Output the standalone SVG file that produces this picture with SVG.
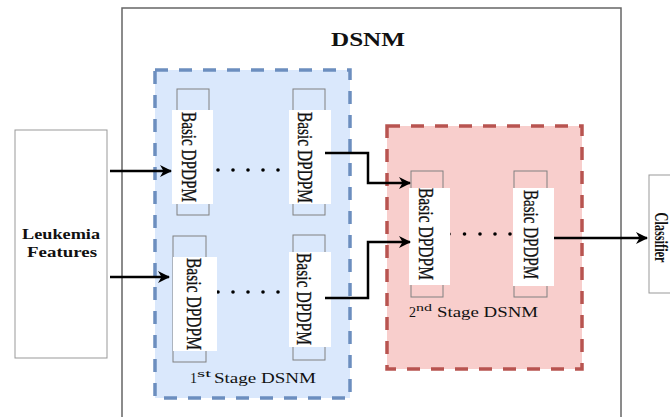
<svg xmlns="http://www.w3.org/2000/svg" width="670" height="417" viewBox="0 0 670 417">
<style>
.serif{font-family:"Liberation Serif","Times New Roman",serif;fill:#111}
.b{font-weight:bold}
.mod{fill:none;stroke:#808080;stroke-width:1}
.wht{fill:#fff;stroke:none}
.conn{fill:none;stroke:#000;stroke-width:2.5}
.dot{fill:#000}
.vt{font-size:16px;stroke:#111;stroke-width:0.25}
</style>
<defs>
<marker id="ah" markerWidth="12" markerHeight="12" refX="11" refY="6" orient="auto" markerUnits="userSpaceOnUse" viewBox="0 0 12 12">
<path d="M0,0 L12,6 L0,12 L3.5,6 Z" fill="#000"/>
</marker>
</defs>
<rect x="0" y="0" width="670" height="417" fill="#fff"/>
<g id="dsnm-outer">
<rect x="122" y="8" width="499" height="420" fill="#fff" stroke="#666" stroke-width="1.5"/>
<text class="serif b" x="331" y="46" font-size="19" textLength="74" lengthAdjust="spacingAndGlyphs">DSNM</text>
</g>
<g id="leukemia-features">
<rect x="15" y="130" width="92" height="228" fill="#fff" stroke="#999" stroke-width="1"/>
<text class="serif b" x="22" y="239" font-size="15" textLength="78" lengthAdjust="spacingAndGlyphs">Leukemia</text>
<text class="serif b" x="27" y="257" font-size="15" textLength="70" lengthAdjust="spacingAndGlyphs">Features</text>
</g>
<g id="stage1">
<rect x="155" y="70" width="195" height="328" fill="#dae8fc" stroke="#6c8ebf" stroke-width="3.5" stroke-dasharray="13 11"/>
<text class="serif" x="190" y="383" font-size="15" textLength="7" lengthAdjust="spacingAndGlyphs">1</text>
<text class="serif" x="197" y="377" font-size="10" textLength="14" lengthAdjust="spacingAndGlyphs">st</text>
<text class="serif" x="214" y="383" font-size="15" textLength="102" lengthAdjust="spacingAndGlyphs">Stage DSNM</text>
<circle class="dot" cx="218" cy="170" r="1.8"/><circle class="dot" cx="233" cy="170" r="1.8"/><circle class="dot" cx="248" cy="170" r="1.8"/><circle class="dot" cx="263" cy="170" r="1.8"/><circle class="dot" cx="278" cy="170" r="1.8"/>
<circle class="dot" cx="218" cy="292" r="1.8"/><circle class="dot" cx="233" cy="292" r="1.8"/><circle class="dot" cx="248" cy="292" r="1.8"/><circle class="dot" cx="263" cy="292" r="1.8"/><circle class="dot" cx="278" cy="292" r="1.8"/>
</g>
<g id="stage2">
<rect x="387" y="126" width="195" height="243" fill="#f8cecc" stroke="#b85450" stroke-width="3.5" stroke-dasharray="13 11"/>
<text class="serif" x="409" y="317" font-size="15" textLength="7" lengthAdjust="spacingAndGlyphs">2</text>
<text class="serif" x="416" y="311" font-size="10" textLength="16" lengthAdjust="spacingAndGlyphs">nd</text>
<text class="serif" x="437" y="317" font-size="15" textLength="101" lengthAdjust="spacingAndGlyphs">Stage DSNM</text>
<circle class="dot" cx="449" cy="234" r="1.8"/><circle class="dot" cx="464.5" cy="234" r="1.8"/><circle class="dot" cx="480" cy="234" r="1.8"/><circle class="dot" cx="495" cy="234" r="1.8"/><circle class="dot" cx="510" cy="234" r="1.8"/>
</g>
<g id="dpdpm-1a">
<rect class="mod" x="177" y="89" width="32" height="126"/>
<rect class="wht" x="172" y="110" width="41" height="94"/>
<text class="serif vt" transform="translate(181.9,157) scale(1.35,1) rotate(90)" text-anchor="middle" textLength="90" lengthAdjust="spacingAndGlyphs">Basic DPDPM</text>
</g>
<g id="dpdpm-1b">
<rect class="mod" x="293" y="89" width="32" height="126"/>
<rect class="wht" x="289" y="110" width="42" height="94"/>
<text class="serif vt" transform="translate(297.9,157.5) scale(1.35,1) rotate(90)" text-anchor="middle" textLength="91" lengthAdjust="spacingAndGlyphs">Basic DPDPM</text>
</g>
<g id="dpdpm-1c">
<rect class="mod" x="173" y="236" width="33" height="126"/>
<rect class="wht" x="173" y="257" width="44" height="94"/>
<text class="serif vt" transform="translate(186.9,304) scale(1.35,1) rotate(90)" text-anchor="middle" textLength="92" lengthAdjust="spacingAndGlyphs">Basic DPDPM</text>
</g>
<g id="dpdpm-1d">
<rect class="mod" x="293" y="235" width="32" height="125"/>
<rect class="wht" x="289" y="252" width="42" height="95"/>
<text class="serif vt" transform="translate(297.4,299) scale(1.35,1) rotate(90)" text-anchor="middle" textLength="92" lengthAdjust="spacingAndGlyphs">Basic DPDPM</text>
</g>
<g id="dpdpm-2a">
<rect class="mod" x="411" y="171" width="32" height="126"/>
<rect class="wht" x="409" y="188" width="41" height="97"/>
<text class="serif vt" transform="translate(418.9,234) scale(1.35,1) rotate(90)" text-anchor="middle" textLength="92" lengthAdjust="spacingAndGlyphs">Basic DPDPM</text>
</g>
<g id="dpdpm-2b">
<rect class="mod" x="514" y="171" width="33" height="126"/>
<rect class="wht" x="513" y="188" width="41" height="98"/>
<text class="serif vt" transform="translate(523.9,234.5) scale(1.35,1) rotate(90)" text-anchor="middle" textLength="89" lengthAdjust="spacingAndGlyphs">Basic DPDPM</text>
</g>
<g id="classifier">
<rect x="649" y="175" width="30" height="118" fill="#fff" stroke="#999" stroke-width="1"/>
<text class="serif b" transform="translate(654.5,237.5) scale(1.12,1) rotate(90)" font-size="16" text-anchor="middle" textLength="50" lengthAdjust="spacingAndGlyphs">Classifier</text>
</g>
<g id="connectors">
<path class="conn" d="M110,171 H171" marker-end="url(#ah)"/>
<path class="conn" d="M110,277 H169" marker-end="url(#ah)"/>
<path class="conn" d="M325,153 H368 V183 H410" marker-end="url(#ah)"/>
<path class="conn" d="M325,298 H368 V242 H410" marker-end="url(#ah)"/>
<path class="conn" d="M554,238 H647" marker-end="url(#ah)"/>
</g>
</svg>
